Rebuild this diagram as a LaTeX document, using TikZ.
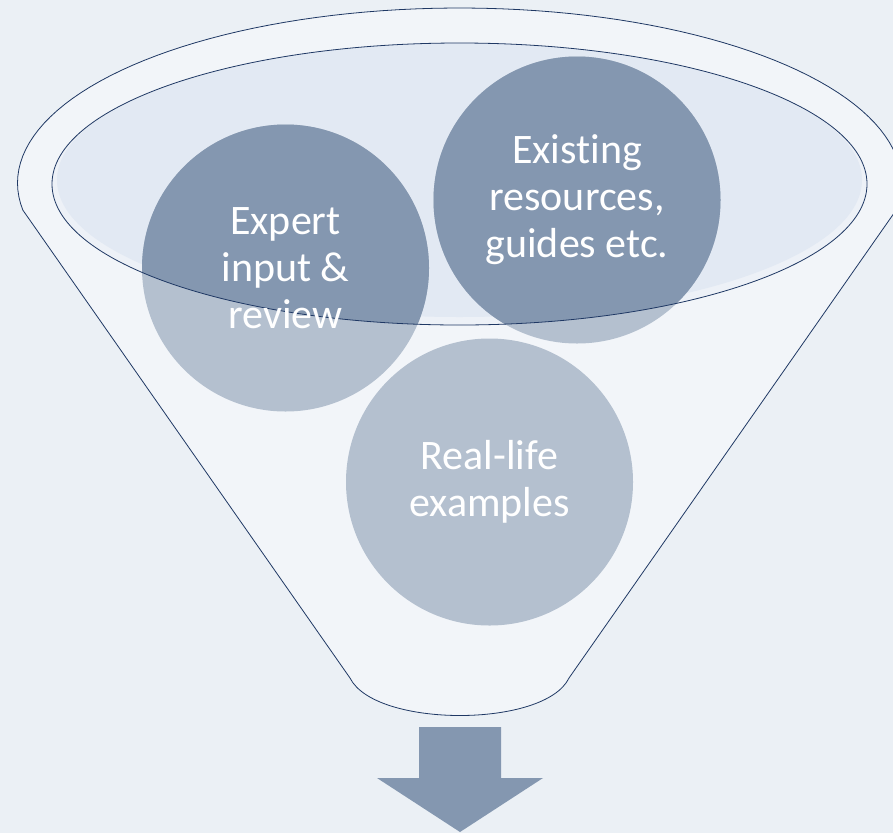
\documentclass[tikz,border=0pt]{standalone}
\usepackage{fontspec}
\setmainfont{Carlito}[Ligatures=NoCommon]
\usepackage{tikz}

\definecolor{backdrop}{RGB}{235,240,245}
\definecolor{funnelbody}{RGB}{242,245,249}
\definecolor{funneltop}{RGB}{226,233,243}
\definecolor{funnelrim}{RGB}{237,241,247}
\definecolor{funnelline}{RGB}{31,56,100}
\definecolor{blobdark}{RGB}{132,151,176}
\definecolor{bloblight}{RGB}{180,192,207}

\begin{document}
\begin{tikzpicture}[x=1pt,y=-1pt,
  blob/.style={circle,fill=bloblight,minimum size=287pt,inner sep=0pt},
  caption/.style={align=center,text=white,font=\fontsize{42}{47}\selectfont},
  rim/.style={draw=funnelline,line width=0.8pt}]
  \useasboundingbox (0,0) rectangle (893,833);
  \clip (0,0) rectangle (893,833);
  \fill[backdrop] (0,0) rectangle (893,833);
  \filldraw[rim,fill=funnelbody] plot[domain=171.1:368.9,samples=90] ({459.5+442*cos(\x)},{183+175*sin(\x)})
    -- (569,678) .. controls (545,728) and (375,728) .. (350,678) -- cycle;
  \fill[funnelrim] (459.5,184) ellipse[x radius=407.5pt,y radius=141pt];
  \fill[funneltop] (459.5,180) ellipse[x radius=402.5pt,y radius=137pt];
  \node[blob] (expert) at (285.5,268) {};
  \node[blob] (existing) at (577,200) {};
  \node[blob] (reallife) at (489.5,482) {};
  \begin{scope}
    \clip (459.5,184) ellipse[x radius=407.5pt,y radius=141pt];
    \fill[blobdark] (expert.center) circle[radius=143.5pt];
    \fill[blobdark] (existing.center) circle[radius=143.5pt];
  \end{scope}
  \draw[rim] (459.5,184) ellipse[x radius=407.5pt,y radius=141pt];
  \node[caption] (expert-text) at (expert) {Expert\\input \&\\review};
  \node[caption] (existing-text) at (existing) {Existing\\resources,\\guides etc.};
  \node[caption] (reallife-text) at (reallife) {Real-life\\examples};
  \fill[blobdark] (419,727) -- (501,727) -- (501,778) -- (543,778) -- (460,832) -- (377,778) -- (419,778) -- cycle;
\end{tikzpicture}
\end{document}
